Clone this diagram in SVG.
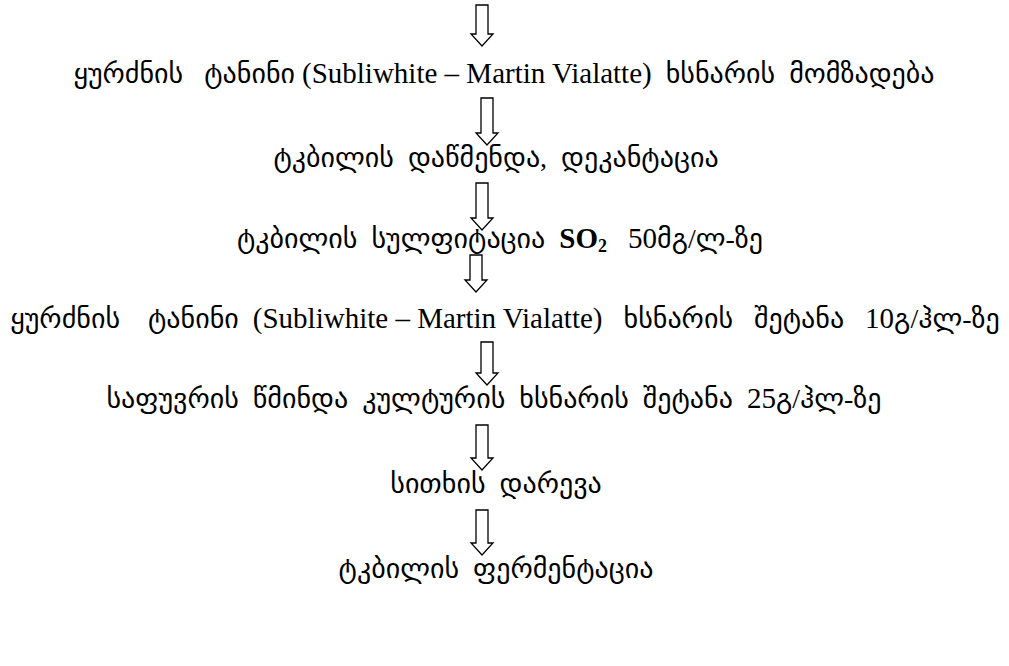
<svg xmlns="http://www.w3.org/2000/svg" width="1009" height="666" viewBox="0 0 1009 666">
  <style>
    .step { font-family: "Liberation Serif", "DejaVu Sans", serif; font-size: 28px; fill: #000; text-anchor: middle; white-space: pre; }
    .lat { font-size: 29px; }
    .flow { fill: #fff; stroke: #000; stroke-width: 1.3; stroke-linejoin: miter; }
  </style>
  <rect width="1009" height="666" fill="#fff"/>

  <!-- hollow down arrows between the steps -->
  <g id="connectors">
    <path class="flow" d="M476,5 H488 V34 H493 L482,46 L471,34 H476 Z"/>
    <path class="flow" d="M481,98 H493 V133 H498 L487,145 L476,133 H481 Z"/>
    <path class="flow" d="M476,183 H488 V218 H493 L482,230 L471,218 H476 Z"/>
    <path class="flow" d="M470,255 H482 V280 H487 L476,292 L465,280 H470 Z"/>
    <path class="flow" d="M481,342 H493 V373 H498 L487,385 L476,373 H481 Z"/>
    <path class="flow" d="M476,425 H488 V458 H493 L482,470 L471,458 H476 Z"/>
    <path class="flow" d="M476,510 H488 V543 H493 L482,555 L471,543 H476 Z"/>
  </g>

  <g id="step-1"><text class="step" x="504" y="83">ყურძნის   ტანინი <tspan class="lat">(Subliwhite – Martin Vialatte)</tspan>  ხსნარის  მომზადება</text></g>
  <g id="step-2"><text class="step" x="496" y="167">ტკბილის  დაწმენდა,  დეკანტაცია</text></g>
  <g id="step-3"><text class="step" x="500" y="248">ტკბილის  სულფიტაცია  <tspan class="lat" font-weight="bold">SO<tspan font-size="18" dy="4">2</tspan></tspan><tspan dy="-4">   </tspan><tspan class="lat">50</tspan>მგ/ლ-ზე</text></g>
  <g id="step-4"><text class="step" x="505" y="328">ყურძნის    ტანინი  <tspan class="lat">(Subliwhite – Martin Vialatte)</tspan>   ხსნარის   შეტანა   <tspan class="lat">10</tspan>გ/ჰლ-ზე</text></g>
  <g id="step-5"><text class="step" x="494" y="408">საფუვრის  წმინდა  კულტურის  ხსნარის  შეტანა  <tspan class="lat">25</tspan>გ/ჰლ-ზე</text></g>
  <g id="step-6"><text class="step" x="496" y="493">სითხის  დარევა</text></g>
  <g id="step-7"><text class="step" x="496" y="578">ტკბილის  ფერმენტაცია</text></g>
</svg>
